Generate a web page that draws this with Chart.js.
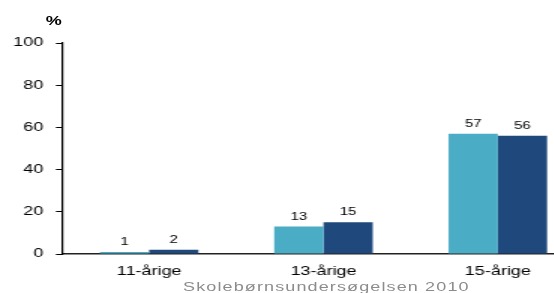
<!DOCTYPE html>
<html lang="da">
<head>
    <meta charset="UTF-8">
    <title>index.html</title>
    <style>
        body { margin: 0; overflow: hidden; background: #fff; font-family: "Liberation Sans", Arial, sans-serif; }
        /* originalen er strakt i bredden, så alt tegnes smalt og strækkes */
        #wrap { position: relative; width: 390px; height: 293px; transform: scaleX(1.5); transform-origin: 0 0; }
        #pct { position: absolute; left: 30.5px; top: 14px; font-size: 12px; font-weight: bold; }
        #src { position: absolute; left: 122px; top: 280px; font-size: 12px; color: #8c8c8c; letter-spacing: 0.75px; white-space: nowrap; }
    </style>
</head>
<body>
    <div id="wrap">
        <canvas id="myChart" width="390" height="293"></canvas>
        <div id="pct">%</div>
        <div id="src">Skolebørnsundersøgelsen 2010</div>
    </div>

    <script src="https://cdn.jsdelivr.net/npm/chart.js"></script>
    <script>
        let labels = ['11-årige', '13-årige', '15-årige'];
        let serie1 = [1, 13, 57];
        let serie2 = [2, 15, 56];
        let yTicks = [0, 20, 40, 60, 80, 100];

        let fontFam = '"Liberation Sans", Arial, sans-serif';

        // tal over søjlerne
        let valueLabels = {
            id: 'valueLabels',
            afterDatasetsDraw(chart) {
                let ctx = chart.ctx;
                ctx.save();
                ctx.font = '10px ' + fontFam;
                ctx.fillStyle = '#000';
                ctx.textAlign = 'center';
                ctx.textBaseline = 'alphabetic';
                chart.data.datasets.forEach((ds, i) => {
                    chart.getDatasetMeta(i).data.forEach((bar, j) => {
                        ctx.fillText(ds.data[j], bar.x, bar.y - 7);
                    });
                });
                ctx.restore();
            }
        };

        let ctx = document.getElementById('myChart');
        let myChart = new Chart(ctx, {
            type: 'bar',
            data: {
                labels: labels,
                datasets: [{
                    data: serie1,
                    backgroundColor: '#4bacc6',
                    barPercentage: 1,
                    categoryPercentage: 0.565
                }, {
                    data: serie2,
                    backgroundColor: '#1f497d',
                    barPercentage: 1,
                    categoryPercentage: 0.565
                }]
            },
            options: {
                responsive: false,
                animation: false,
                layout: { padding: { top: 43, right: 0, left: 0, bottom: 0 } },
                plugins: { legend: { display: false }, tooltip: { enabled: false } },
                scales: {
                    x: {
                        grid: { display: false, drawTicks: false },
                        border: { display: true, color: '#222', width: 1.5 },
                        ticks: { color: '#000', padding: 10, font: { size: 12, family: fontFam } },
                        afterFit(scale) { scale.height = 39; }
                    },
                    y: {
                        min: 0,
                        max: 100,
                        afterBuildTicks(scale) { scale.ticks = yTicks.map(v => ({ value: v })); },
                        grid: { display: true, drawOnChartArea: false, drawTicks: true, tickLength: 4, color: '#000', lineWidth: 1 },
                        border: { display: true, color: '#000', width: 1.2 },
                        ticks: { color: '#000', padding: 8.5, font: { size: 12, family: fontFam } },
                        afterFit(scale) { scale.width = 41.3; }
                    }
                }
            },
            plugins: [valueLabels]
        });
    </script>
</body>
</html>
